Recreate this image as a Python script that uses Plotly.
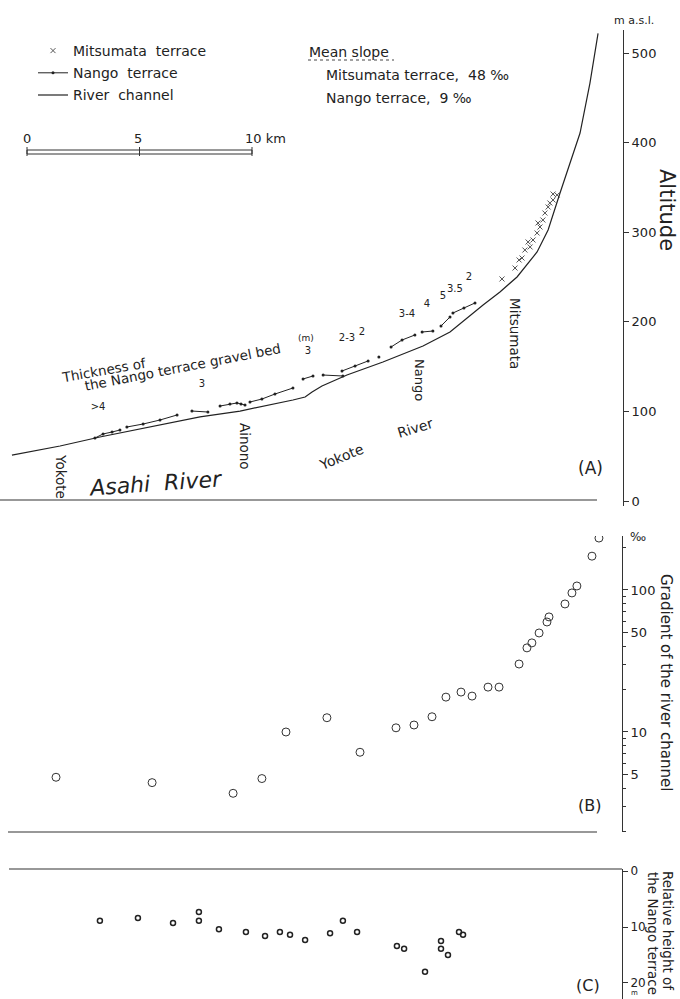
import plotly.graph_objects as go

W, H = 680, 999
FONT = "DejaVu Sans"
INK = "#222222"

# ---------------- data ----------------
# distance along the valley (km) and altitude (m a.s.l.) of the river channel
river_km = [0.53, 2.67, 4.44, 6.67, 8.89, 10.67, 12.00, 13.02, 13.56, 13.87, 14.31,
            15.42, 17.02, 18.80, 20.00, 20.58, 21.47, 22.22, 22.98, 23.87, 24.36,
            24.89, 25.24, 25.78, 26.22, 26.58]
river_alt = [51.3, 61.4, 71.4, 82.6, 93.8, 100.4, 107.1, 112.7, 116.1, 121.7, 128.3,
             140.6, 155.1, 173.0, 188.6, 200.9, 218.8, 233.3, 250.0, 277.9, 302.5,
             343.8, 369.4, 410.7, 466.5, 522.0]

# Mitsumata terrace remnants
mitsu_km = [22.31, 22.89, 23.07, 23.20, 23.33, 23.47, 23.56, 23.69, 23.87, 23.91,
            24.00, 24.13, 24.22, 24.36, 24.44, 24.58, 24.58, 24.76]
mitsu_alt = [247.8, 260.0, 269.0, 271.2, 280.1, 289.1, 283.5, 291.3, 299.1, 310.3,
             305.8, 313.6, 321.4, 328.1, 332.6, 335.9, 342.6, 341.5]

# Nango terrace remnants (segments separated by None)
nango_km = [4.22, 4.58, 4.98, 5.33, None,
            5.64, 6.36, 7.11, 7.87, None,
            8.53, 9.24, None,
            9.78, 10.22, 10.53, 10.71, 10.89, None,
            11.11, 11.64, 12.22, 13.02, None,
            13.47, 13.91, None,
            14.36, 15.24, None,
            15.20, 15.78, 16.36, None,
            16.84, None,
            17.38, 17.87, 18.44, None,
            18.76, 19.24, None,
            19.60, 20.00, None,
            20.13, 20.62, 21.11]
nango_alt = [70.3, 74.8, 77.0, 79.2, None,
             82.6, 85.9, 90.4, 96.0, None,
             100.4, 99.3, None,
             106.0, 108.3, 109.4, 108.3, 107.1, None,
             110.5, 113.8, 119.4, 126.1, None,
             136.2, 139.5, None,
             140.6, 139.5, None,
             145.1, 150.7, 156.3, None,
             160.7, None,
             171.9, 179.7, 185.3, None,
             188.6, 189.7, None,
             195.3, 205.4, None,
             209.8, 215.4, 221.0]

# thickness of the Nango terrace gravel bed (m)
thick_text = [">4", "3", "3", "2-3", "2", "3-4", "4", "5", "3.5", "2"]
thick_km = [4.36, 8.98, 13.69, 15.42, 16.09, 18.09, 18.98, 19.69, 20.22, 20.84]
thick_alt = [104.9, 129.5, 167.4, 181.9, 188.6, 207.6, 218.8, 228.8, 236.6, 248.9]

# (B) gradient of the river channel (per mille)
grad_km = [2.49, 6.76, 10.36, 11.64, 12.71, 14.53, 16.00, 17.60, 18.40, 19.20,
           19.82, 20.49, 20.98, 21.69, 22.18, 23.07, 23.42, 23.64, 23.96, 24.31,
           24.40, 25.11, 25.42, 25.64, 26.31, 26.62]
grad_val = [4.8, 4.4, 3.7, 4.7, 10.0, 12.6, 7.2, 10.7, 11.2, 12.8,
            17.6, 19.1, 17.9, 20.7, 20.7, 30.1, 39.1, 42.4, 49.8, 59.5,
            64.6, 79.7, 95.3, 106.7, 173.0, 232.0]

# (C) relative height of the Nango terrace (m)
rel_km = [4.44, 6.13, 7.69, 8.84, 8.84, 9.73, 10.93, 11.78, 12.44, 12.89, 13.56,
          14.67, 15.24, 15.87, 17.64, 17.96, 18.89, 19.60, 19.60, 19.91, 20.40, 20.58]
rel_h = [8.9, 8.4, 9.3, 7.3, 8.9, 10.4, 10.9, 11.6, 10.9, 11.4, 12.3,
         11.1, 8.9, 10.9, 13.4, 13.9, 18.0, 12.5, 13.9, 15.0, 10.9, 11.4]

alt_ticks = [0, 100, 200, 300, 400, 500]
grad_ticks = [5, 10, 50, 100]
grad_minor = [2, 3, 4, 6, 7, 8, 9, 20, 30, 40, 60, 70, 80, 90, 200]
rel_ticks = [0, 10, 20]

# ---------------- layout helpers ----------------
KM_PER_PX = 1 / 22.5


def P(x, y):
    return x / W, 1 - y / H


fig = go.Figure()

fig.add_trace(go.Scatter(x=mitsu_km, y=mitsu_alt, mode="markers", name="Mitsumata  terrace",
                         legendgroup="a",
                         marker=dict(symbol="x-thin", size=5, line=dict(width=1, color="#555")),
                         xaxis="x", yaxis="y"))
fig.add_trace(go.Scatter(x=nango_km, y=nango_alt, mode="lines+markers", name="Nango  terrace",
                         legendgroup="b",
                         line=dict(color=INK, width=1), marker=dict(size=3, color=INK),
                         connectgaps=False, xaxis="x", yaxis="y"))
fig.add_trace(go.Scatter(x=river_km, y=river_alt, mode="lines", name="River  channel",
                         legendgroup="c",
                         line=dict(color=INK, width=1.2), xaxis="x", yaxis="y"))
fig.add_trace(go.Scatter(x=thick_km, y=thick_alt, mode="text", text=thick_text,
                         textfont=dict(family=FONT, size=10, color=INK), showlegend=False,
                         xaxis="x", yaxis="y"))
fig.add_trace(go.Scatter(x=grad_km, y=grad_val, mode="markers", showlegend=False,
                         marker=dict(symbol="circle-open", size=8, color="#333",
                                     line=dict(width=1, color="#333")),
                         xaxis="x", yaxis="y2"))
fig.add_trace(go.Scatter(x=rel_km, y=rel_h, mode="markers", showlegend=False,
                         marker=dict(symbol="circle-open", size=5, color="#222",
                                     line=dict(width=1.5, color="#222")),
                         xaxis="x", yaxis="y3"))

axis_common = dict(anchor="free", side="right", showline=True, linecolor="#333", linewidth=1,
                   ticks="outside", ticklen=5, tickcolor="#333", showgrid=False, zeroline=False,
                   automargin=False, fixedrange=True)
tick13 = dict(family=FONT, size=13, color=INK)

fig.update_layout(
    width=W, height=H, template="none",
    margin=dict(l=0, r=0, t=0, b=0),
    paper_bgcolor="white", plot_bgcolor="white",
    font=dict(family=FONT, color=INK),
    xaxis=dict(range=[0, W * KM_PER_PX], domain=[0, 1], visible=False, fixedrange=True),
    yaxis=dict(domain=[1 - 506 / H, 1 - 30 / H],
               range=[(501 - 506) / 0.896, (501 - 30) / 0.896],
               tickvals=alt_ticks, position=623 / W, tickfont=tick13, **axis_common),
    yaxis2=dict(type="log", domain=[1 - 832 / H, 1 - 536 / H], range=[0.2958, 2.380],
                tickvals=grad_ticks, position=622 / W, tickfont=tick13,
                minor=dict(tickvals=grad_minor, ticklen=3, ticks="outside", tickcolor="#333"),
                **axis_common),
    yaxis3=dict(domain=[0, 1 - 869 / H], range=[22.86, -0.36], tickvals=rel_ticks,
                position=622 / W, tickfont=dict(family=FONT, size=12, color=INK),
                **axis_common),
    showlegend=True,
    legend=dict(x=33 / W, y=1 - 35 / H, xanchor="left", yanchor="top",
                font=dict(family=FONT, size=14, color=INK), bgcolor="rgba(0,0,0,0)",
                traceorder="grouped", tracegroupgap=1, itemwidth=30),
)

# frame lines
shapes = []
for (x0, x1, y) in [(0, 597, 500), (8, 597, 832), (9, 622, 869)]:
    a, b = P(x0, y)
    c, _ = P(x1, y)
    shapes.append(dict(type="line", xref="paper", yref="paper", x0=a, x1=c, y0=b, y1=b,
                       line=dict(color="#333", width=1.2)))
# scale bar 0-10 km
sb0 = 27 * KM_PER_PX
shapes.append(dict(type="rect", xref="x", yref="paper", x0=sb0, x1=sb0 + 10,
                   y0=1 - 154 / H, y1=1 - 150 / H, line=dict(color="#333", width=1)))
for k, top in [(0, 147), (5, 147), (10, 147)]:
    shapes.append(dict(type="line", xref="x", yref="paper", x0=sb0 + k, x1=sb0 + k,
                       y0=1 - 156 / H, y1=1 - top / H, line=dict(color="#333", width=1)))
# underline of "Mean slope"
a, b = P(308, 60)
c, _ = P(394, 60)
shapes.append(dict(type="line", xref="paper", yref="paper", x0=a, x1=c, y0=b, y1=b,
                   line=dict(color="#444", width=1, dash="dot")))
fig.update_layout(shapes=shapes)

ann = []


def T(text, x, y, size=14, angle=0, xanchor="center", italic=False, yanchor="middle"):
    px_, py_ = P(x, y)
    ann.append(dict(text=text, x=px_, y=py_, xref="paper", yref="paper", showarrow=False,
                    xanchor=xanchor, yanchor=yanchor, textangle=angle,
                    font=dict(family=FONT, size=size, color=INK,
                              style="italic" if italic else "normal")))


T("Mean slope", 307, 52, 14, xanchor="left")
T("Mitsumata terrace,  48 ‰", 324, 75, 14, xanchor="left")
T("Nango terrace,  9 ‰", 324, 98, 14, xanchor="left")
T("0", 27, 138, 13)
T("5", 138, 138, 13)
T("10 km", 243, 138, 13, xanchor="left")
T("m a.s.l.", 634, 21, 11)
T("Altitude", 667, 210, 21, 90)
T("(A)", 590, 468, 17)
T("Asahi  River", 155, 483, 22, -4, italic=True)
T("Yokote", 61, 476, 13.5, 90)
T("Ainono", 245, 446, 13.5, 90)
T("Nango", 420, 380, 13, 90)
T("Mitsumata", 515, 333, 13.5, 90)
T("Yokote", 341, 457, 14, -22)
T("River", 415, 428, 14, -17)
T("Thickness of", 104, 370, 13.5, -10)
T("the Nango terrace gravel bed", 182, 367, 13.5, -11)
T("(m)", 306, 338, 9)
T("‰", 638, 537, 12)
T("Gradient of the river channel", 666, 682, 15, 90)
T("(B)", 589, 805, 16)
T("Relative height of", 668, 931, 13.5, 90)
T("the Nango terrace", 653, 933, 13.5, 90)
T("(C)", 588, 985, 16)
T("m", 634, 999, 7, yanchor="bottom")

fig.update_layout(annotations=ann)

# the page body gets no default margin, so the 680x999 figure fills the window exactly
fig.write_html("out.html",
               config={"displayModeBar": False, "staticPlot": True},
               post_script="document.body.style.margin='0px';"
                           "document.body.style.overflow='hidden';")
